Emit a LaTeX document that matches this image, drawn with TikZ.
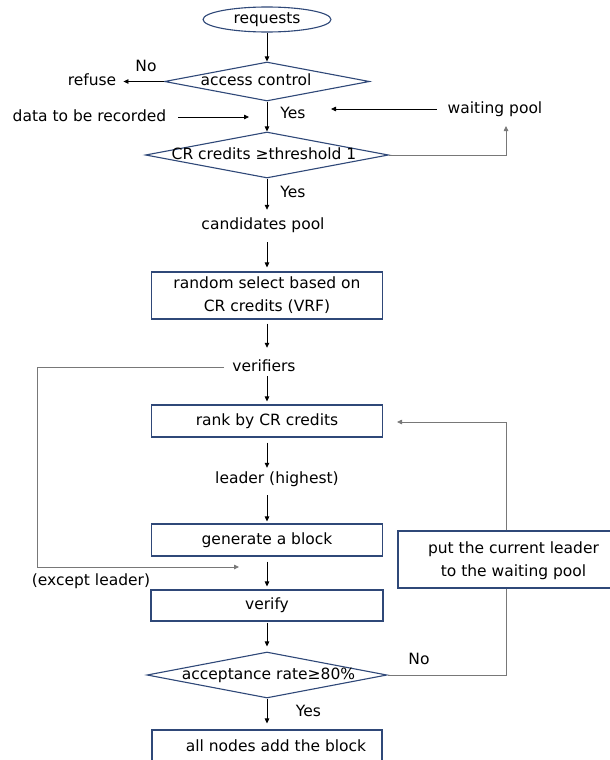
\documentclass[tikz,border=0pt]{standalone}
\usepackage{fontspec}
\setmainfont{DejaVu Sans}
\usetikzlibrary{shapes.geometric,arrows.meta}
\definecolor{navy}{RGB}{47,72,120}
\definecolor{loopgray}{RGB}{120,120,120}
\begin{document}
\begin{tikzpicture}[x=1pt,y=-1pt,
  font=\fontsize{15.5}{23}\selectfont,
  txt/.style={inner sep=0pt, text height=11.5pt, text depth=3.5pt},
  box/.style={draw=navy, line width=1.1pt, rectangle, inner sep=0pt},
  dia/.style={draw=navy, line width=1.1pt, diamond, inner sep=0pt},
  arr/.style={line width=0.8pt, -{Triangle[length=5pt,width=4.5pt]}},
  lp/.style={draw=loopgray, line width=0.9pt},
]
\clip (0,0) rectangle (610,760);
\fill[white] (0,0) rectangle (610,760);
% top
\node[draw=navy, line width=1.1pt, ellipse, inner sep=0pt, minimum width=128, minimum height=25] (req) at (267,19.5) {requests};
\node[dia, minimum width=205, minimum height=39] (acc) at (267,81.5) {};
\node[txt] (acct) at (256,81.5) {access control};
\node[txt] (no1) at (146,67) {No};
\node[txt] (refuse) at (92,81.5) {refuse};
\draw[arr, shorten >=7pt] (acc.west) -- (refuse.east);
\node[txt] (yes1) at (293,114) {Yes};
\node[txt] (data) at (89.5,117) {data to be recorded};
\coordinate (dataend) at (249,117);
\draw[arr, shorten <=12pt] (data.east) -- (dataend);
\node[txt] (wp) at (495,109) {waiting pool};
\coordinate (wpend) at (331,109);
\draw[arr, shorten <=11pt] (wp.west) -- (wpend);
\node[dia, minimum width=243, minimum height=46] (d2) at (267,155) {};
\node[txt] (d2t) at (264,155) {CR credits ≥threshold 1};
\draw[arr] (req.south) -- (acc.north);
\draw[arr] (acc.south) -- (d2.north);
\coordinate (wpup) at (506,126);
\draw[lp, arr] (d2.east) -| (wpup);
\node[txt] (yes2) at (293,193) {Yes};
\node[txt] (cp) at (263,225) {candidates pool};
\draw[arr, shorten >=7.5pt] (d2.south) -- (d2.south |- cp.north);
% middle
\node[box, minimum width=231, minimum height=47, align=center] (rand) at (267,295.5) {random select based on\\CR credits (VRF)};
\draw[arr, shorten <=9.5pt, shorten >=4pt] (rand.north |- cp.south) -- (rand.north);
\node[txt] (ver) at (264,367) {verifiers};
\draw[arr, shorten <=4pt, shorten >=11.5pt] (rand.south) -- (rand.south |- ver.north);
\node[box, minimum width=231, minimum height=32] (rank) at (267,421) {rank by CR credits};
\draw[arr, shorten <=1.5pt, shorten >=3pt] (rank.north |- ver.south) -- (rank.north);
\node[txt] (leader) at (277,479) {leader (highest)};
\draw[arr, shorten <=5pt, shorten >=3.5pt] (rank.south) -- (rank.south |- leader.north);
\node[box, minimum width=231, minimum height=32] (gen) at (267,540) {generate a block};
\draw[arr, shorten <=8.5pt, shorten >=2pt] (gen.north |- leader.south) -- (gen.north);
\node[box, minimum width=232, minimum height=31] (verify) at (267,605.5) {verify};
\draw[arr, shorten <=5pt, shorten >=3pt] (gen.south) -- (verify.north);
\node[dia, minimum width=240, minimum height=46] (acc3) at (267,675) {};
\node[txt] (acc3t) at (268.5,675) {acceptance rate≥80\%};
\draw[arr, shorten <=1pt, shorten >=5pt] (verify.south) -- (acc3.north);
\node[txt] (yes3) at (308.5,712) {Yes};
\node[box, minimum width=230, minimum height=38] (all) at (267,749) {};
\node[txt] (allt) at (276,747) {all nodes add the block};
\draw[arr, shorten >=6pt] (acc3.south) -- (all.north);
% right loop
\node[box, minimum width=216, minimum height=57] (put) at (506,559.5) {};
\node[inner sep=0pt, align=center] (putt) at (513.5,561) {put the current leader\\to the waiting pool};
\node[txt] (no2) at (419,660) {No};
\draw[lp] (acc3.east) -| (put.south);
\coordinate (rankend) at (397,422);
\draw[lp, arr] (put.north) |- (rankend);
% left loop
\node[txt] (exc) at (91,581) {(except leader)};
\coordinate (lc) at (37,567);
\coordinate (excend) at (239,567);
\draw[lp, arr] ([xshift=-8pt]ver.west) -| (lc) -- (excend);
\end{tikzpicture}
\end{document}
